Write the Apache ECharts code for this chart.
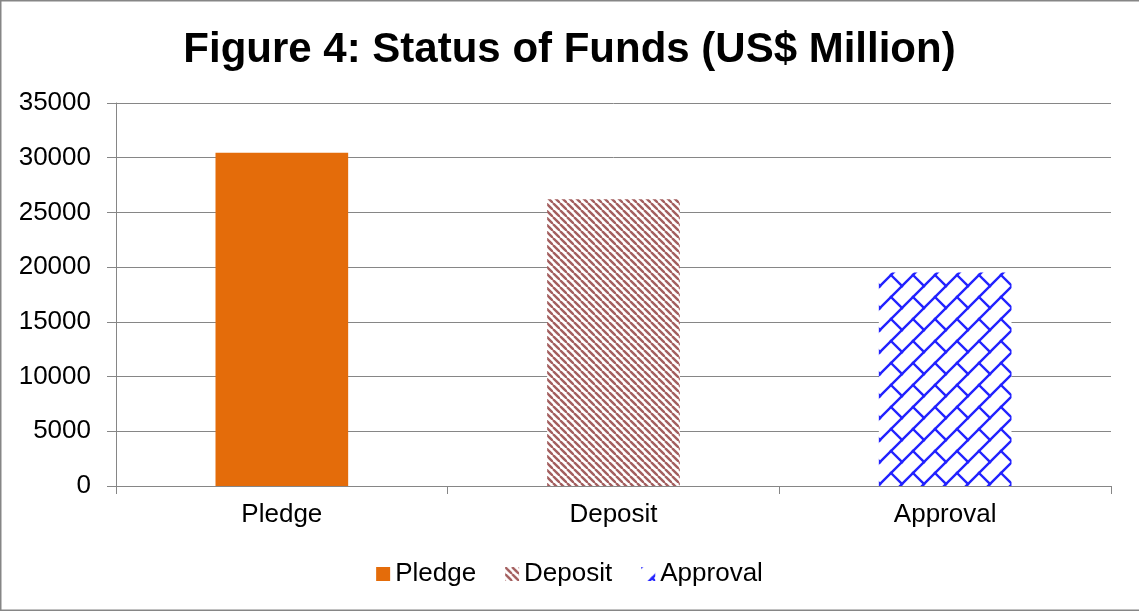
<!DOCTYPE html>
<html>
<head>
<meta charset="utf-8">
<style>
  html, body { margin: 0; padding: 0; background: #ffffff; }
  #chart { width: 1139px; height: 611px; }
</style>
<script src="https://cdn.jsdelivr.net/npm/echarts@6/dist/echarts.min.js"></script>
</head>
<body>
<div id="chart"></div>
<script>
// Status of funds, US$ million
const categories = ['Pledge', 'Deposit', 'Approval'];
const pledgeValues = [30450, null, null];
const depositValues = [null, 26200, null];
const approvalValues = [null, null, 19500];
const yTicks = { min: 0, max: 35000, interval: 5000 };

// Wide downward diagonal hatch
function makeDiagonalPattern() {
  const s = 7;
  const c = document.createElement('canvas');
  c.width = s; c.height = s;
  const ctx = c.getContext('2d');
  ctx.fillStyle = '#ffffff';
  ctx.fillRect(0, 0, s, s);
  ctx.strokeStyle = '#a35e5e';
  ctx.lineWidth = 2.4;
  [-s, 0, s].forEach(function (k) {
    ctx.beginPath();
    ctx.moveTo(k, 0);
    ctx.lineTo(k + s, s);
    ctx.stroke();
  });
  return c;
}

// Diagonal brick hatch
function makeBrickPattern() {
  const s = 22;
  const c = document.createElement('canvas');
  c.width = s; c.height = s;
  const ctx = c.getContext('2d');
  ctx.fillStyle = '#ffffff';
  ctx.fillRect(0, 0, s, s);
  ctx.strokeStyle = '#2222ff';
  ctx.lineWidth = 2.4;
  ctx.lineCap = 'square';
  // long "/" strokes
  [-s, 0, s].forEach(function (k) {
    ctx.beginPath();
    ctx.moveTo(k, s);
    ctx.lineTo(k + s, 0);
    ctx.stroke();
  });
  // short "\" connectors
  [[s / 2, s / 2], [s / 2 - s, s / 2], [s / 2, s / 2 - s], [s / 2 - s, s / 2 - s]].forEach(function (p) {
    ctx.beginPath();
    ctx.moveTo(p[0], p[1]);
    ctx.lineTo(p[0] + s / 2, p[1] + s / 2);
    ctx.stroke();
  });
  return c;
}

const font = 'Liberation Sans, Arial, sans-serif';
const chart = echarts.init(document.getElementById('chart'), null, { renderer: 'canvas' });

const barCommon = {
  type: 'bar',
  barWidth: '40%',
  barGap: '-100%',
  animation: false
};

chart.setOption({
  backgroundColor: '#ffffff',
  title: {
    text: 'Figure 4: Status of Funds (US$ Million)',
    left: 'center',
    top: 24,
    textStyle: { fontFamily: font, fontSize: 42, fontWeight: 'bold', color: '#000000' }
  },
  legend: {
    bottom: 19,
    left: 'center',
    icon: 'rect',
    itemWidth: 14,
    itemHeight: 14,
    itemGap: 29,
    textStyle: { fontFamily: font, fontSize: 26, color: '#000000', padding: [0, 0, 0, 0] },
    data: ['Pledge', 'Deposit', 'Approval']
  },
  grid: { left: 116, right: 28, top: 103, bottom: 125, containLabel: false },
  xAxis: {
    type: 'category',
    data: categories,
    axisLine: { lineStyle: { color: '#868686', width: 1 } },
    axisTick: { show: true, length: 8, alignWithLabel: false, lineStyle: { color: '#868686' } },
    axisLabel: { fontFamily: font, fontSize: 26, color: '#000000', margin: 16 }
  },
  yAxis: {
    type: 'value',
    min: yTicks.min,
    max: yTicks.max,
    interval: yTicks.interval,
    axisLine: { show: true, lineStyle: { color: '#868686', width: 1 } },
    axisTick: { show: true, length: 9, lineStyle: { color: '#868686' } },
    splitLine: { lineStyle: { color: '#868686', width: 1 } },
    axisLabel: {
      fontFamily: font, fontSize: 26, color: '#000000', margin: 25,
      formatter: function (v) { return String(v); }
    }
  },
  graphic: [{
    type: 'rect',
    silent: true,
    shape: { x: 0.75, y: 0.75, width: 1140, height: 609.5 },
    style: { fill: 'none', stroke: '#868686', lineWidth: 1.5 }
  }],
  series: [
    Object.assign({}, barCommon, {
      name: 'Pledge',
      data: pledgeValues,
      itemStyle: { color: '#E46C0A' }
    }),
    Object.assign({}, barCommon, {
      name: 'Deposit',
      data: depositValues,
      itemStyle: { color: { image: makeDiagonalPattern(), repeat: 'repeat' } }
    }),
    Object.assign({}, barCommon, {
      name: 'Approval',
      data: approvalValues,
      itemStyle: { color: { image: makeBrickPattern(), repeat: 'repeat' } }
    })
  ]
});
</script>
</body>
</html>
